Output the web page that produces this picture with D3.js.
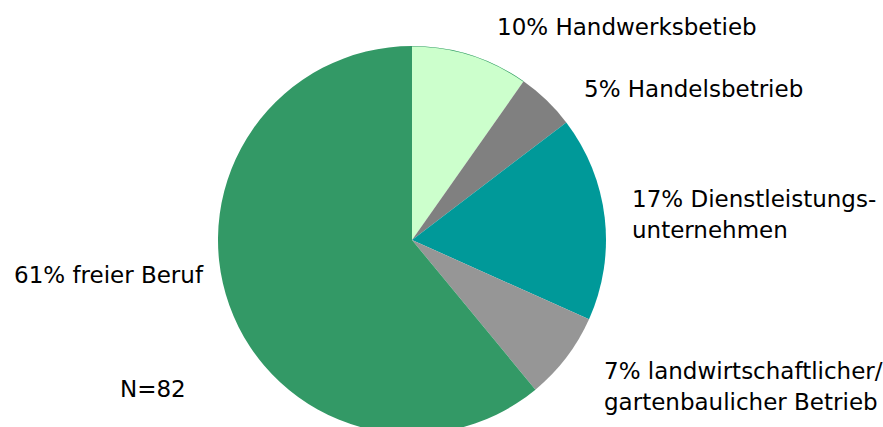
<!DOCTYPE html>
<html>
<head>
<meta charset="utf-8">
<script src="https://cdn.jsdelivr.net/npm/d3@7"></script>
<style>
  html, body { margin: 0; padding: 0; background: #fff; }
  svg text { font-family: "DejaVu Sans", Verdana, sans-serif; fill: #000; }
</style>
</head>
<body>
<svg id="chart" width="883" height="427"></svg>
<script>
// Sektoren im Uhrzeigersinn ab 12 Uhr (Anzahl Nennungen, N=82)
const categories = ["Handwerksbetieb", "Handelsbetrieb", "Dienstleistungsunternehmen",
  "landwirtschaftlicher/gartenbaulicher Betrieb", "freier Beruf"];
const counts = [8, 4, 14, 6, 50];
const colors = ["#ccffcc", "#808080", "#009999", "#969696", "#339966"];
// Beschriftungstext je Sektor (Zeilen), Prozentwert wird vorangestellt
const labelText = [
  ["Handwerksbetieb"],
  ["Handelsbetrieb"],
  ["Dienstleistungs-", "unternehmen"],
  ["landwirtschaftlicher/", "gartenbaulicher Betrieb"],
  ["freier Beruf"]
];

const total = d3.sum(counts);
const sampleNote = "N=" + total;

const svg = d3.select("#chart");
const cx = 412, cy = 240, r = 194;

const pie = d3.pie().sort(null).value(d => d)(counts);
const arc = d3.arc().innerRadius(0).outerRadius(r);

const g = svg.append("g").attr("transform", `translate(${cx},${cy})`);
g.selectAll("path.slice")
  .data(pie)
  .join("path")
  .attr("class", "slice")
  .attr("d", arc)
  .attr("fill", (d, i) => colors[i]);

// feine Randlinie am hellgrünen Sektor
const rim = d3.arc().innerRadius(r - 0.6).outerRadius(r);
g.append("path").attr("d", rim(pie[0])).attr("fill", "#339966");

// Beschriftungen: linke Kante und Grundlinie der ersten Zeile
const labelPos = [
  [497, 35], [584, 97], [632, 207], [604, 379], [14, 283]
];
const lineGap = 31;
const fs = 23;
labelText.forEach((lines, i) => {
  const pct = Math.round(counts[i] / total * 100) + "% ";
  const t = svg.append("text")
    .attr("x", labelPos[i][0]).attr("y", labelPos[i][1])
    .attr("font-size", fs);
  lines.forEach((ln, j) => {
    t.append("tspan").attr("x", labelPos[i][0]).attr("dy", j === 0 ? 0 : lineGap)
      .text(j === 0 ? pct + ln : ln);
  });
});
svg.append("text").attr("x", 120).attr("y", 397).attr("font-size", fs).text(sampleNote);
</script>
</body>
</html>
